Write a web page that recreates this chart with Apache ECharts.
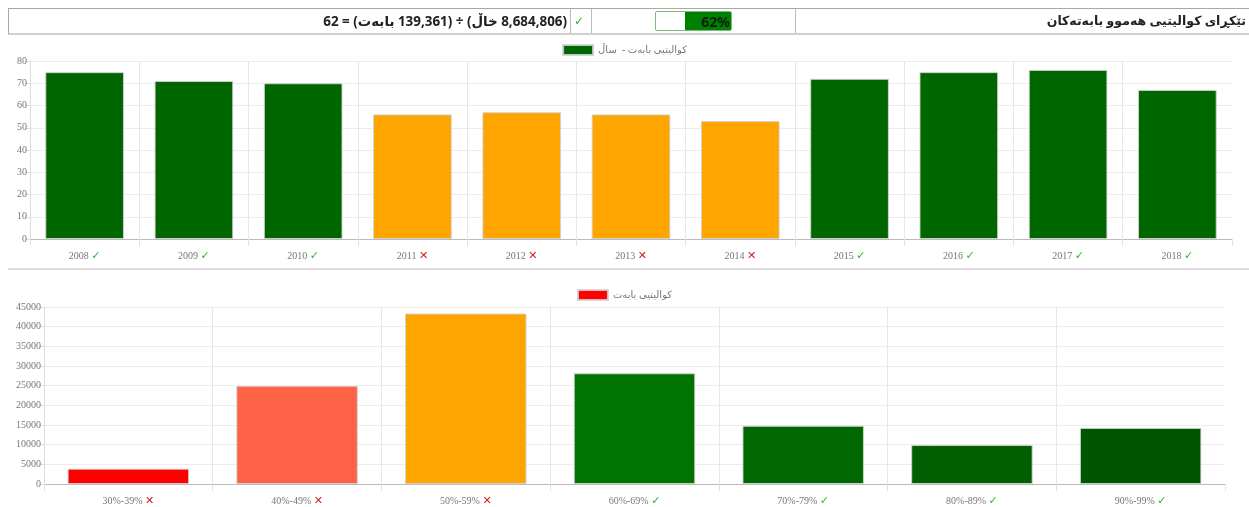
<!DOCTYPE html>
<html>
<head>
<meta charset="utf-8">
<script src="https://cdn.jsdelivr.net/npm/echarts@6/dist/echarts.min.js"></script>
<style>
html,body{margin:0;padding:0;background:#fff;}
#chart{position:absolute;left:0;top:0;width:1249px;height:507px;}
#hdr{position:absolute;left:8px;top:8px;width:1241px;height:24px;border-top:1px solid #a8a8a8;border-bottom:2px solid #cfcfcf;border-left:1px solid #a8a8a8;z-index:5;font-family:'Noto Sans','DejaVu Sans',sans-serif;}
.vl{position:absolute;top:0;width:1px;height:24px;background:#bdbdbd;}
#formula{position:absolute;left:0;width:558px;top:0;height:24px;line-height:24px;text-align:right;font-weight:bold;font-size:13.4px;color:#222;direction:rtl;white-space:nowrap;}
#chk{position:absolute;left:565px;top:0;line-height:24px;font-size:12px;color:#22bb22;font-family:'DejaVu Sans',sans-serif;}
#pbar{position:absolute;left:646px;top:2px;width:75px;height:18px;border:1px solid #7fb87f;border-radius:2px;overflow:hidden;background:#fff;}
#pfill{position:absolute;right:0;top:0;height:18px;background:#008000;}
#ptxt{position:absolute;right:1px;top:0;line-height:19px;font-size:14px;font-weight:bold;color:#0d1d0d;}
#title{position:absolute;right:4px;top:0;line-height:24px;font-size:12.5px;font-weight:bold;color:#222;direction:rtl;}
</style>
</head>
<body>
<div id="chart"></div>
<div id="hdr">
  <div id="formula" dir="rtl"></div>
  <div class="vl" style="left:561px"></div>
  <div id="chk">✓</div>
  <div class="vl" style="left:582px"></div>
  <div id="pbar"><div id="pfill"></div><div id="ptxt"></div></div>
  <div class="vl" style="left:786px"></div>
  <div id="title" dir="rtl"></div>
</div>
<script>
// ---- data ----
const headerTitle = 'تێکڕای کوالیتیی هەموو بابەتەکان';
const totalPoints = '8,684,806';
const totalItems = '139,361';
const itemsWord = 'بابەت';
const pointsWord = 'خاڵ';
const averageQuality = 62;

const years = ['2008','2009','2010','2011','2012','2013','2014','2015','2016','2017','2018'];
const yearValues = [75, 71, 70, 56, 57, 56, 53, 72, 75, 76, 67];
const yearStatus = ['ok','ok','ok','no','no','no','no','ok','ok','ok','ok'];
const yearColors = ['#006600','#006600','#006600','#FFA500','#FFA500','#FFA500','#FFA500','#006600','#006600','#006600','#006600'];
const yearSeriesName = 'کوالیتیی بابەت -  ساڵ';

const ranges = ['30%-39%','40%-49%','50%-59%','60%-69%','70%-79%','80%-89%','90%-99%'];
const rangeValues = [3900, 24950, 43350, 28150, 14800, 9900, 14250];
const rangeStatus = ['no','no','no','ok','ok','ok','ok'];
const rangeColors = ['#FF0000','#FF6347','#FFA500','#007400','#006800','#005f00','#005600'];
const rangeSeriesName = 'کوالیتیی بابەت';

const yearTicks = {min:0, max:80, interval:10};
const rangeTicks = {min:0, max:45000, interval:5000};

// ---- header (RTL paragraph, logical order) ----
document.getElementById('formula').textContent =
  '(' + totalPoints + ' ' + pointsWord + ') ÷ (' + totalItems + ' ' + itemsWord + ') = ' + averageQuality;
document.getElementById('title').textContent = headerTitle;
document.getElementById('pfill').style.width = averageQuality + '%';
document.getElementById('ptxt').textContent = averageQuality + '%';

// ---- chart ----
const serif = "'Liberation Serif','DejaVu Serif',serif";
const sans = "'Noto Sans','DejaVu Sans',sans-serif";
const rich = {
  ok: {color:'#22bb22', fontSize:11, fontFamily:"'DejaVu Sans',sans-serif"},
  no: {color:'#d42020', fontSize:11, fontWeight:'bold', fontFamily:"'DejaVu Sans',sans-serif"}
};
function catAxis(gridIndex, cats, status){
  return {
    type:'category', gridIndex, data:cats,
    axisLine:{lineStyle:{color:'#bbbbbb'}},
    axisTick:{show:true, length:7, lineStyle:{color:'#e2e2e2'}},
    splitLine:{show:true, showMinLine:false, showMaxLine:false, lineStyle:{color:'#e6e6e6'}},
    axisLabel:{
      margin:12, color:'#777', fontSize:10, fontFamily:serif, rich,
      formatter:(v, i)=> v + ' ' + (status[i]==='ok' ? '{ok|✓}' : '{no|✕}')
    }
  };
}
function valAxis(gridIndex, t){
  return {
    type:'value', gridIndex, min:t.min, max:t.max, interval:t.interval,
    axisLine:{show:true, lineStyle:{color:'#dddddd'}},
    axisTick:{show:true, length:5, lineStyle:{color:'#dddddd'}},
    splitLine:{show:true, lineStyle:{color:'#ececec'}},
    axisLabel:{margin:3, color:'#777', fontSize:10, fontFamily:serif, formatter:(v)=>String(v)}
  };
}
const chart = echarts.init(document.getElementById('chart'), null, {renderer:'canvas'});
chart.setOption({
  animation:false,
  backgroundColor:'#ffffff',
  legend:[
    {data:[yearSeriesName], top:39, left:'center', icon:'rect', itemWidth:30, itemHeight:10, itemGap:5,
     textStyle:{color:'#777', fontSize:10, fontFamily:sans}, selectedMode:false},
    {data:[rangeSeriesName], top:284, left:'center', icon:'rect', itemWidth:30, itemHeight:10, itemGap:5,
     textStyle:{color:'#777', fontSize:10, fontFamily:sans}, selectedMode:false}
  ],
  grid:[
    {left:30, right:17, top:61, bottom:268, containLabel:false},
    {left:44, right:24, top:307, bottom:20, containLabel:false}
  ],
  xAxis:[catAxis(0, years, yearStatus), catAxis(1, ranges, rangeStatus)],
  yAxis:[valAxis(0, yearTicks), valAxis(1, rangeTicks)],
  graphic:[
    {type:'rect', shape:{x:8, y:268, width:1241, height:2}, style:{fill:'#dcdcdc'}, silent:true}
  ],
  series:[
    {
      type:'bar', name:yearSeriesName, xAxisIndex:0, yAxisIndex:0,
      barCategoryGap:'28%',
      itemStyle:{color:'#006600', borderColor:'rgba(210,210,210,0.9)', borderWidth:1},
      data: yearValues.map((v,i)=>({value:v, itemStyle:{color:yearColors[i]}}))
    },
    {
      type:'bar', name:rangeSeriesName, xAxisIndex:1, yAxisIndex:1,
      barCategoryGap:'28%',
      itemStyle:{color:'#FF0000', borderColor:'rgba(210,210,210,0.9)', borderWidth:1},
      data: rangeValues.map((v,i)=>({value:v, itemStyle:{color:rangeColors[i]}}))
    }
  ]
});
</script>
</body>
</html>
